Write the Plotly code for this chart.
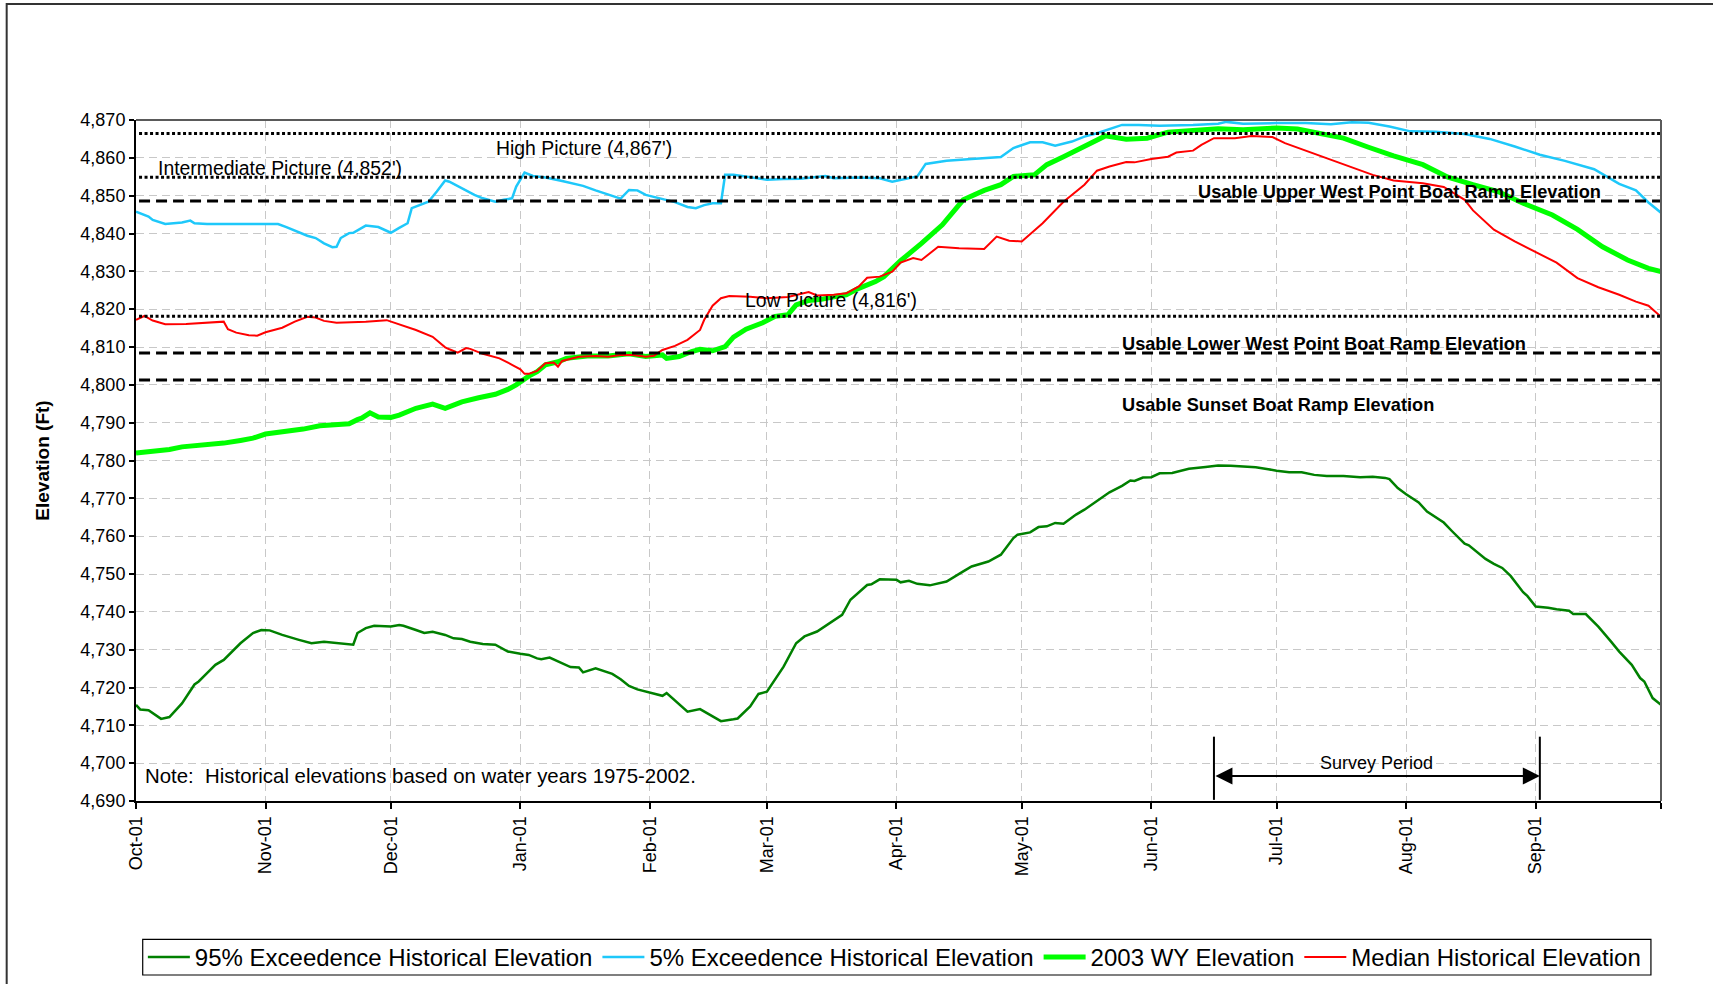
import pandas as pd
import plotly.graph_objects as go

START = pd.Timestamp("2002-10-01")   # start of the 2003 water year

# ---------------- data (day offset from Oct 1, elevation ft) ----------------
p95_days = [0, 1, 3, 6, 8, 11, 14, 15, 17, 19, 21, 25, 28, 30, 32, 35, 39, 42, 45, 48, 51, 52, 53, 55, 57,
            61, 63, 64, 67, 69, 71, 74, 76, 78, 80, 83, 86, 89, 92, 94, 96, 97, 99, 102, 104, 106, 107, 110,
            111, 114, 116, 118, 120, 123, 126, 127, 130, 132, 135, 137, 138, 140, 143, 144, 147, 149, 151,
            153, 155, 158, 160, 163, 166, 169, 171, 175, 176, 178, 182, 183, 185, 187, 190, 193, 194, 198,
            200, 204, 207, 210, 211, 214, 216, 218, 220, 222, 225, 227, 231, 233, 236, 238, 239, 241, 243,
            245, 248, 250, 252, 256, 259, 262, 266, 268, 271, 273, 276, 279, 282, 285, 289, 293, 296, 299,
            300, 302, 304, 305, 307, 309, 312, 313, 315, 318, 319, 323, 325, 327, 329, 332, 333, 335, 338,
            340, 343, 344, 347, 350, 353, 355, 358, 360, 361, 363, 365]
p95_vals = [4715.4, 4714.2, 4714.0, 4711.7, 4712.2, 4715.8, 4720.8, 4721.6, 4723.8, 4726.0, 4727.3, 4731.7,
            4734.4, 4735.2, 4735.1, 4733.9, 4732.6, 4731.7, 4732.1, 4731.7, 4731.3, 4731.3, 4734.4, 4735.7,
            4736.3, 4736.1, 4736.5, 4736.3, 4735.2, 4734.4, 4734.7, 4733.9, 4733.0, 4732.8, 4732.1, 4731.5,
            4731.3, 4729.5, 4728.9, 4728.6, 4727.7, 4727.5, 4727.9, 4726.4, 4725.4, 4725.3, 4724.0, 4725.1,
            4724.7, 4723.6, 4722.2, 4720.4, 4719.5, 4718.7, 4717.8, 4718.5, 4715.4, 4713.6, 4714.3, 4713.0,
            4712.3, 4711.1, 4711.6, 4711.8, 4715.0, 4718.3, 4718.9, 4722.2, 4725.5, 4731.7, 4733.5, 4734.8,
            4737.0, 4739.2, 4743.2, 4747.1, 4747.3, 4748.6, 4748.5, 4747.8, 4748.2, 4747.4, 4747.0, 4747.6,
            4748.0, 4750.7, 4752.0, 4753.3, 4755.1, 4759.5, 4760.4, 4761.0, 4762.4, 4762.6, 4763.5, 4763.3,
            4765.7, 4767.0, 4770.2, 4771.6, 4773.3, 4774.7, 4774.6, 4775.5, 4775.6, 4776.6, 4776.7, 4777.3,
            4777.8, 4778.3, 4778.7, 4778.6, 4778.4, 4778.2, 4777.7, 4777.3, 4776.9, 4776.9, 4776.2, 4775.9,
            4775.9, 4775.6, 4775.7, 4775.4, 4775.1, 4772.7, 4771.1, 4770.3, 4768.9, 4766.5, 4764.2, 4763.6,
            4761.3, 4758.0, 4757.6, 4754.0, 4752.7, 4751.6, 4749.5, 4745.2, 4744.2, 4741.4, 4741.1, 4740.7,
            4740.3, 4739.4, 4739.4, 4736.1, 4732.2, 4729.5, 4726.0, 4722.5, 4721.6, 4717.2, 4715.4]

p05_days = [0, 3, 4, 7, 11, 13, 14, 17, 23, 34, 36, 38, 41, 43, 45, 47, 48, 49, 51, 52, 55, 58, 61, 63, 65,
            66, 68, 70, 72, 74, 75, 78, 81, 83, 86, 88, 90, 91, 93, 95, 98, 102, 105, 107, 110, 113, 116,
            118, 120, 122, 126, 129, 132, 134, 136, 138, 140, 141, 143, 147, 151, 155, 159, 165, 167, 173,
            178, 181, 183, 187, 189, 194, 200, 207, 210, 214, 217, 220, 224, 227, 230, 236, 240, 245, 253,
            259, 261, 265, 273, 280, 286, 291, 295, 300, 305, 311, 318, 324, 330, 336, 342, 349, 355, 359,
            362, 365]
p05_vals = [4845.8, 4844.5, 4843.6, 4842.5, 4842.9, 4843.4, 4842.7, 4842.5, 4842.5, 4842.5, 4841.7, 4840.8,
            4839.4, 4838.8, 4837.4, 4836.4, 4836.5, 4838.8, 4840.1, 4840.2, 4842.1, 4841.7, 4840.2, 4841.5,
            4842.7, 4846.7, 4847.6, 4848.4, 4851.1, 4854.0, 4853.7, 4852.0, 4850.2, 4849.3, 4848.4, 4848.9,
            4849.3, 4852.4, 4856.1, 4855.2, 4854.8, 4853.9, 4853.0, 4852.6, 4851.4, 4850.2, 4849.2, 4851.5,
            4851.4, 4850.2, 4849.2, 4848.3, 4847.0, 4846.7, 4847.5, 4848.0, 4848.0, 4855.5, 4855.5, 4854.8,
            4854.2, 4854.4, 4854.5, 4855.2, 4854.6, 4854.8, 4854.6, 4853.7, 4854.2, 4855.1, 4858.4, 4859.2,
            4859.7, 4860.2, 4862.6, 4864.1, 4864.1, 4863.2, 4864.3, 4865.6, 4866.5, 4868.7, 4868.7, 4868.5,
            4868.7, 4869.0, 4869.5, 4869.0, 4869.2, 4869.2, 4868.9, 4869.4, 4869.3, 4868.3, 4867.0, 4866.9,
            4866.3, 4865.0, 4863.0, 4860.8, 4859.2, 4857.0, 4853.1, 4851.4, 4848.2, 4845.5]

wy2003_days = [0, 4, 8, 11, 15, 19, 21, 25, 28, 31, 35, 40, 44, 48, 51, 53, 54, 56, 58, 61, 63, 67, 71, 74,
               76, 78, 82, 86, 89, 91, 94, 96, 98, 101, 103, 108, 113, 118, 122, 126, 127, 130, 133, 135,
               138, 141, 143, 146, 150, 153, 156, 158, 161, 164, 167, 170, 173, 177, 179, 181, 183, 188,
               193, 198, 203, 207, 210, 215, 218, 222, 227, 232, 237, 242, 247, 253, 259, 265, 273, 278,
               283, 289, 295, 301, 308, 314, 320, 326, 332, 339, 345, 351, 357, 362, 365]
wy2003_vals = [4782.0, 4782.4, 4782.9, 4783.6, 4783.9, 4784.4, 4784.6, 4785.3, 4785.9, 4787.0, 4787.5,
               4788.3, 4789.2, 4789.6, 4789.7, 4790.8, 4791.2, 4792.6, 4791.5, 4791.4, 4792.0, 4793.8,
               4794.9, 4793.8, 4794.7, 4795.5, 4796.6, 4797.5, 4798.8, 4800.0, 4802.3, 4803.5, 4805.3,
               4806.1, 4807.0, 4807.6, 4807.6, 4808.2, 4807.5, 4807.9, 4807.0, 4807.5, 4808.8, 4809.4,
               4809.0, 4810.1, 4812.6, 4814.7, 4816.4, 4818.1, 4818.5, 4821.1, 4822.3, 4822.6, 4823.3,
               4823.8, 4825.5, 4827.3, 4828.6, 4830.8, 4832.8, 4837.4, 4842.3, 4848.9, 4851.4, 4852.9,
               4855.1, 4855.5, 4858.2, 4860.3, 4863.0, 4865.8, 4864.9, 4865.2, 4866.8, 4867.1, 4867.7,
               4867.4, 4867.9, 4867.6, 4866.5, 4865.2, 4862.8, 4860.5, 4858.2, 4854.9, 4852.9, 4851.1,
               4848.0, 4844.9, 4841.1, 4836.5, 4833.0, 4830.8, 4829.9]

median_days = [0, 2, 4, 7, 12, 17, 21, 22, 24, 27, 29, 31, 35, 38, 41, 43, 45, 48, 51, 55, 60, 63, 67, 71,
               74, 75, 77, 79, 80, 83, 87, 90, 92, 93, 94, 96, 98, 100, 101, 102, 106, 110, 113, 116, 119,
               122, 124, 126, 129, 132, 135, 136, 138, 140, 142, 147, 151, 156, 161, 163, 167, 170, 173,
               175, 178, 181, 183, 186, 188, 192, 197, 203, 206, 209, 212, 217, 222, 227, 230, 233, 237,
               239, 243, 247, 249, 253, 255, 258, 263, 267, 270, 272, 275, 279, 283, 286, 291, 296, 301,
               308, 313, 318, 320, 325, 330, 336, 340, 345, 350, 355, 359, 362, 365]
median_vals = [4817.2, 4818.2, 4817.0, 4816.0, 4816.1, 4816.4, 4816.7, 4814.7, 4813.8, 4813.1, 4813.0,
               4813.9, 4815.1, 4816.7, 4818.0, 4817.8, 4816.9, 4816.4, 4816.5, 4816.7, 4817.1, 4816.0,
               4814.5, 4812.7, 4809.9, 4809.4, 4808.5, 4809.7, 4809.5, 4808.2, 4807.0, 4805.3, 4804.1,
               4802.9, 4802.9, 4803.7, 4805.7, 4805.9, 4804.8, 4806.3, 4807.4, 4807.6, 4807.4, 4807.9,
               4807.9, 4807.4, 4807.7, 4809.2, 4810.3, 4811.9, 4814.5, 4817.2, 4820.9, 4822.9, 4823.5,
               4823.3, 4822.9, 4823.2, 4824.5, 4823.6, 4823.8, 4824.2, 4826.0, 4828.3, 4828.6, 4829.9,
               4832.3, 4833.5, 4833.0, 4836.5, 4836.1, 4835.9, 4839.2, 4838.1, 4837.9, 4842.7, 4848.4,
               4852.9, 4856.6, 4857.7, 4858.9, 4858.8, 4859.7, 4860.3, 4861.4, 4861.9, 4863.4, 4865.2,
               4865.2, 4865.8, 4865.6, 4865.5, 4863.9, 4862.3, 4860.5, 4859.5, 4857.3, 4855.5, 4854.0,
               4853.3, 4852.3, 4848.9, 4846.1, 4841.0, 4837.9, 4834.6, 4832.3, 4828.2, 4825.8, 4823.8,
               4822.0, 4820.9, 4818.0]

# reference elevations
picture_levels = [4866.4, 4854.9, 4818.1]      # dotted: High / Intermediate / Low picture
ramp_levels = [4848.6, 4808.4, 4801.3]         # dashed: Upper WP / Lower WP / Sunset ramps

survey_start_day = 258   # Jun 16
survey_end_day = 336     # Sep 2

tick_dates = pd.date_range("2002-10-01", "2003-10-01", freq="MS")
tick_labels = ["Oct-01", "Nov-01", "Dec-01", "Jan-01", "Feb-01", "Mar-01", "Apr-01",
               "May-01", "Jun-01", "Jul-01", "Aug-01", "Sep-01", ""]


def to_dates(days):
    return START + pd.to_timedelta(pd.Series(days, dtype=float), unit="D")


def d(day):
    return START + pd.Timedelta(days=day)


FONT = "Arial, Liberation Sans, sans-serif"

fig = go.Figure()
series = [
    ("95% Exceedence Historical Elevation", p95_days, p95_vals, "#008000", 2.5),
    ("5% Exceedence Historical Elevation", p05_days, p05_vals, "#1EC8FA", 2.5),
    ("2003 WY Elevation", wy2003_days, wy2003_vals, "#00FF00", 5),
    ("Median Historical Elevation", median_days, median_vals, "#FF0000", 2),
]
for name, dd, vv, col, w in series:
    fig.add_trace(go.Scatter(x=to_dates(dd), y=vv, mode="lines", name=name,
                             line=dict(color=col, width=w), hoverinfo="skip"))

shapes = []
for lv in picture_levels:
    shapes.append(dict(type="line", xref="paper", x0=0.002, x1=1, yref="y", y0=lv, y1=lv,
                       line=dict(color="black", width=3, dash="3px,2.5px")))
for lv in ramp_levels:
    shapes.append(dict(type="line", xref="paper", x0=0.002, x1=1, yref="y", y0=lv, y1=lv,
                       line=dict(color="black", width=3, dash="11px,6px")))
# plot-area border (top and right)
shapes.append(dict(type="line", xref="paper", yref="paper", x0=0, x1=1, y0=1, y1=1,
                   line=dict(color="#5a5a5a", width=2)))
shapes.append(dict(type="line", xref="paper", yref="paper", x0=1, x1=1, y0=0, y1=1,
                   line=dict(color="#5a5a5a", width=2)))
# survey period brackets
for sd in (survey_start_day, survey_end_day):
    shapes.append(dict(type="line", xref="x", yref="y", x0=d(sd), x1=d(sd), y0=4690.3, y1=4707,
                       line=dict(color="black", width=2)))
# outer chart frame
shapes.append(dict(type="rect", xref="paper", yref="paper", x0=-0.0848, x1=1.05, y0=-0.30, y1=1.1705,
                   line=dict(color="#333333", width=2), layer="below"))
# legend frame
shapes.append(dict(type="rect", xref="paper", yref="paper", x0=0.0044, x1=0.9934, y0=-0.2555, y1=-0.2031,
                   line=dict(color="black", width=1.2), fillcolor="white", layer="below"))

ann = []
def label(text, day, y, size=19, bold=False, anchor="left"):
    ann.append(dict(x=d(day), y=y, xref="x", yref="y", text=("<b>%s</b>" % text) if bold else text,
                    showarrow=False, xanchor=anchor, yanchor="middle",
                    font=dict(family=FONT, size=size, color="black")))

label("High Picture (4,867')", 85.8, 4862.6, size=19.4)
label("Intermediate Picture (4,852')", 4.9, 4857.3, size=19.4)
label("Low Picture (4,816')", 145.4, 4822.4, size=19.4)
label("Usable Upper West Point Boat Ramp Elevation", 253.7, 4851.1, size=18.2, bold=True)
label("Usable Lower West Point Boat Ramp Elevation", 235.4, 4810.8, size=18.2, bold=True)
label("Usable Sunset Boat Ramp Elevation", 235.4, 4794.7, size=18.2, bold=True)
label("Note:\u00a0 Historical elevations based on water years 1975-2002.", 1.7, 4696.6, size=20.4)
label("Survey Period", 296.9, 4700.0, size=18, anchor="center")

# double-headed survey arrow
ann.append(dict(x=d(survey_end_day), y=4696.6, ax=d(survey_start_day), ay=4696.6,
                xref="x", yref="y", axref="x", ayref="y", text="", showarrow=True,
                arrowhead=2, startarrowhead=2, arrowside="end+start", arrowsize=1.7,
                startarrowsize=1.7, arrowwidth=2, arrowcolor="black"))

fig.update_layout(
    width=1713, height=984,
    margin=dict(l=136, r=52, t=120, b=183, autoexpand=False),
    paper_bgcolor="white", plot_bgcolor="white",
    font=dict(family=FONT, size=18, color="black"),
    shapes=shapes, annotations=ann,
    showlegend=True,
    legend=dict(orientation="h", x=0.0045, xanchor="left", y=-0.1966, yanchor="top",
                borderwidth=0, bgcolor="rgba(0,0,0,0)",
                font=dict(family=FONT, size=24, color="black"),
                itemwidth=42, tracegroupgap=0),
)
fig.update_xaxes(
    type="date", range=[tick_dates[0], tick_dates[-1]],
    tickmode="array", tickvals=tick_dates, ticktext=tick_labels, tickangle=-90,
    ticks="outside", ticklen=6, tickwidth=1.5, tickcolor="black",
    showline=True, linecolor="black", linewidth=2,
    showgrid=True, gridcolor="#c8c8c8", gridwidth=1, griddash="8px,5px",
    tickfont=dict(family=FONT, size=18), zeroline=False,
)
fig.update_yaxes(
    range=[4690, 4870], tickmode="linear", tick0=4690, dtick=10, tickformat=",",
    ticks="outside", ticklen=5, tickwidth=1.5, tickcolor="black",
    showline=True, linecolor="black", linewidth=2,
    showgrid=True, gridcolor="#c8c8c8", gridwidth=1, griddash="8px,5px",
    tickfont=dict(family=FONT, size=18), zeroline=False,
    title=dict(text="<b>Elevation (Ft)</b>", font=dict(family=FONT, size=19), standoff=26),
)

fig.write_html("out.html", config={"displayModeBar": False},
               post_script="document.body.style.margin='0';document.body.style.overflow='hidden';")
